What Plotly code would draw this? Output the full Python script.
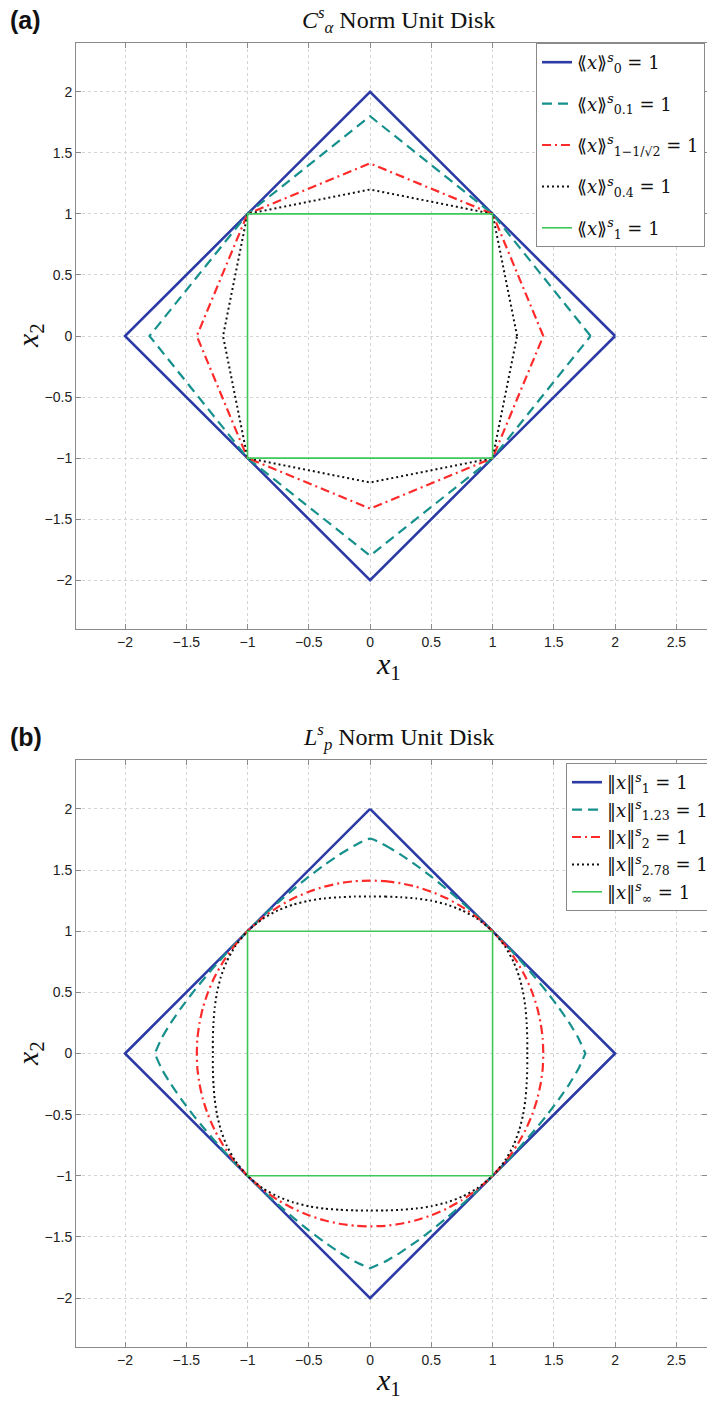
import plotly.graph_objects as go

# ---------------- Panel (a): C_alpha^s norm unit disks (polygon vertices) ----------------
a_names = [
    "⟪<i>x</i>⟫<sup><i>s</i></sup><sub>0</sub> = 1",
    "⟪<i>x</i>⟫<sup><i>s</i></sup><sub>0.1</sub> = 1",
    "⟪<i>x</i>⟫<sup><i>s</i></sup><sub>1−1/√2</sub> = 1",
    "⟪<i>x</i>⟫<sup><i>s</i></sup><sub>0.4</sub> = 1",
    "⟪<i>x</i>⟫<sup><i>s</i></sup><sub>1</sub> = 1",
]
a0_x = [2, 1, 0, -1, -2, -1, 0, 1, 2]
a0_y = [0, 1, 2, 1, 0, -1, -2, -1, 0]
a1_x = [1.8, 1, 0, -1, -1.8, -1, 0, 1, 1.8]
a1_y = [0, 1, 1.8, 1, 0, -1, -1.8, -1, 0]
a2_x = [1.414, 1, 0, -1, -1.414, -1, 0, 1, 1.414]
a2_y = [0, 1, 1.414, 1, 0, -1, -1.414, -1, 0]
a3_x = [1.2, 1, 0, -1, -1.2, -1, 0, 1, 1.2]
a3_y = [0, 1, 1.2, 1, 0, -1, -1.2, -1, 0]
a4_x = [1, 1, 0, -1, -1, -1, 0, 1, 1]
a4_y = [0, 1, 1, 1, 0, -1, -1, -1, 0]

# ---------------- Panel (b): L_p^s norm unit disks (one octant) ----------------
b_names = [
    "‖<i>x</i>‖<sup><i>s</i></sup><sub>1</sub> = 1",
    "‖<i>x</i>‖<sup><i>s</i></sup><sub>1.23</sub> = 1",
    "‖<i>x</i>‖<sup><i>s</i></sup><sub>2</sub> = 1",
    "‖<i>x</i>‖<sup><i>s</i></sup><sub>2.78</sub> = 1",
    "‖<i>x</i>‖<sup><i>s</i></sup><sub>∞</sub> = 1",
]
oct_x = [0, 0.125, 0.25, 0.375, 0.5, 0.625, 0.75, 0.875, 1]
b0_oy = [2.0, 1.875, 1.75, 1.625, 1.5, 1.375, 1.25, 1.125, 1.0]
b1_oy = [1.757, 1.701, 1.626, 1.540, 1.446, 1.344, 1.236, 1.122, 1.0]
b2_oy = [1.414, 1.409, 1.392, 1.364, 1.323, 1.269, 1.199, 1.111, 1.0]
b3_oy = [1.283, 1.283, 1.278, 1.268, 1.249, 1.218, 1.171, 1.102, 1.0]
b4_oy = [1.0, 1.0, 1.0, 1.0, 1.0, 1.0, 1.0, 1.0, 1.0]

tick_vals = [-2, -1.5, -1, -0.5, 0, 0.5, 1, 1.5, 2, 2.5]
tick_text = ["−2", "−1.5", "−1", "−0.5", "0", "0.5", "1", "1.5", "2", "2.5"]
ytick_vals = [-2, -1.5, -1, -0.5, 0, 0.5, 1, 1.5, 2]
ytick_text = ["−2", "−1.5", "−1", "−0.5", "0", "0.5", "1", "1.5", "2"]

colors = ["#2c3aa6", "#16908c", "#ff2a2a", "#111111", "#3ec85a"]
widths = [2.6, 2.2, 2.2, 2.0, 1.6]
dashes = ["solid", "10px,6px", "9px,4px,2px,4px", "2px,3px", "solid"]


def full_curve(ox, oy):
    # quadrant I path from (0,a) through (1,1) to (a,0) using symmetry about x=y
    qx = list(ox) + list(reversed(oy[:-1]))
    qy = list(oy) + list(reversed(ox[:-1]))
    xs, ys = [], []
    xs += qx; ys += qy
    xs += list(reversed(qx)); ys += [-v for v in reversed(qy)]
    xs += [-v for v in qx]; ys += [-v for v in qy]
    xs += [-v for v in reversed(qx)]; ys += list(reversed(qy))
    return xs, ys


fig = go.Figure()

a_sets = [(a0_x, a0_y), (a1_x, a1_y), (a2_x, a2_y), (a3_x, a3_y), (a4_x, a4_y)]
for i, (xs, ys) in enumerate(a_sets):
    fig.add_trace(go.Scatter(
        x=xs, y=ys, mode="lines", name=a_names[i],
        line=dict(color=colors[i], width=widths[i], dash=dashes[i]),
        xaxis="x", yaxis="y", legend="legend", legendgroup="a%d" % i,
    ))

b_sets = [b0_oy, b1_oy, b2_oy, b3_oy, b4_oy]
for i, oy in enumerate(b_sets):
    xs, ys = full_curve(oct_x, oy)
    shape = "spline" if i in (1, 2, 3) else "linear"
    fig.add_trace(go.Scatter(
        x=xs, y=ys, mode="lines", name=b_names[i],
        line=dict(color=colors[i], width=widths[i], dash=dashes[i], shape=shape, smoothing=0.6),
        xaxis="x2", yaxis="y2", legend="legend2", legendgroup="b%d" % i,
    ))

W, H = 707, 1405
ml, mr, mt, mb = 76, 0, 43, 58
pw = W - ml - mr
ph = H - mt - mb


def py(px):  # pixel y -> paper y
    return (H - mb - px) / ph


def pxx(px):  # pixel x -> paper x
    return (px - ml) / pw


axis_common = dict(
    showline=True, linecolor="#8a8a8a", linewidth=1, mirror="ticks",
    ticks="inside", ticklen=5, tickcolor="#8a8a8a",
    showgrid=True, gridcolor="#d4d4d4", griddash="dot", gridwidth=1,
    zeroline=False,
    tickfont=dict(family="Liberation Sans, Arial, sans-serif", size=14, color="#222"),
)

fig.update_layout(
    width=W, height=H,
    margin=dict(l=ml, r=mr, t=mt, b=mb, autoexpand=False),
    paper_bgcolor="white", plot_bgcolor="white",
    xaxis=dict(domain=[0, 1], anchor="y", range=[-2.4, 2.75],
               tickvals=tick_vals, ticktext=tick_text, **axis_common),
    yaxis=dict(domain=[py(629), 1], anchor="x", range=[-2.4, 2.4],
               tickvals=ytick_vals, ticktext=ytick_text, **axis_common),
    xaxis2=dict(domain=[0, 1], anchor="y2", range=[-2.4, 2.75],
                tickvals=tick_vals, ticktext=tick_text, **axis_common),
    yaxis2=dict(domain=[0, py(760)], anchor="x2", range=[-2.4, 2.4],
                tickvals=ytick_vals, ticktext=ytick_text, **axis_common),
    legend=dict(x=pxx(536), y=1, xanchor="left", yanchor="top",
                bgcolor="white", bordercolor="#8a8a8a", borderwidth=1,
                font=dict(family="DejaVu Serif, serif", size=18, color="#111"),
                itemwidth=30, tracegroupgap=15, traceorder="grouped"),
    legend2=dict(x=pxx(566), y=py(763), xanchor="left", yanchor="top",
                 bgcolor="white", bordercolor="#8a8a8a", borderwidth=1,
                 font=dict(family="DejaVu Serif, serif", size=18, color="#111"),
                 itemwidth=30, tracegroupgap=1, traceorder="grouped"),
    showlegend=True,
)

serif = "Liberation Serif, Times New Roman, serif"
ann = [
    dict(text="<b>(a)</b>", x=pxx(8), y=py(20), xanchor="left", yanchor="middle",
         font=dict(family="Liberation Sans, Arial", size=25, color="#111")),
    dict(text="<b>(b)</b>", x=pxx(8), y=py(737), xanchor="left", yanchor="middle",
         font=dict(family="Liberation Sans, Arial", size=25, color="#111")),
    dict(text="<i>C</i><sup><i>s</i></sup><sub><i>α</i></sub> Norm Unit Disk", x=pxx(398), y=py(20),
         xanchor="center", yanchor="middle", font=dict(family=serif, size=24, color="#111")),
    dict(text="<i>L</i><sup><i>s</i></sup><sub><i>p</i></sub> Norm Unit Disk", x=pxx(398), y=py(737),
         xanchor="center", yanchor="middle", font=dict(family=serif, size=24, color="#111")),
    dict(text="<i>x</i><sub>1</sub>", x=pxx(388), y=py(666), xanchor="center", yanchor="middle",
         font=dict(family=serif, size=30, color="#111")),
    dict(text="<i>x</i><sub>1</sub>", x=pxx(388), y=py(1382), xanchor="center", yanchor="middle",
         font=dict(family=serif, size=30, color="#111")),
    dict(text="<i>x</i><sub>2</sub>", x=pxx(30), y=py(336), xanchor="center", yanchor="middle",
         textangle=-90, font=dict(family=serif, size=30, color="#111")),
    dict(text="<i>x</i><sub>2</sub>", x=pxx(30), y=py(1054), xanchor="center", yanchor="middle",
         textangle=-90, font=dict(family=serif, size=30, color="#111")),
]
for a in ann:
    a.update(xref="paper", yref="paper", showarrow=False)
fig.update_layout(annotations=ann)

fig.write_html(
    "out.html",
    config={"displayModeBar": False},
    post_script="document.body.style.margin='0';document.body.style.padding='0';document.body.style.overflow='hidden';",
)
